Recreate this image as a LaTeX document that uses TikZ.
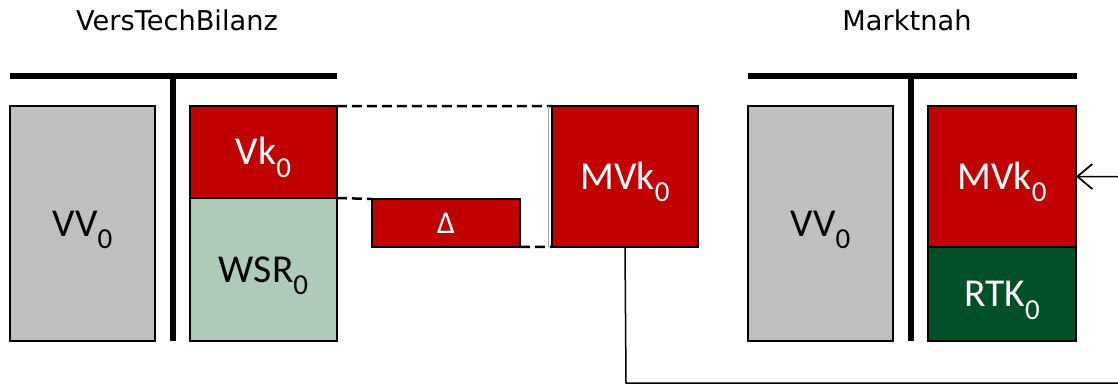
\documentclass[tikz,border=0pt]{standalone}
\usepackage{fontspec}
\setmainfont{Carlito}
\newfontfamily\titlefont{DejaVu Sans}
\usetikzlibrary{arrows.meta}
\definecolor{bred}{HTML}{C00000}
\definecolor{bgray}{HTML}{BFBFBF}
\definecolor{lgreen}{HTML}{AECBB9}
\definecolor{dgreen}{HTML}{005027}
\newcommand{\zsub}{\raisebox{-0.32em}{\fontsize{16.5}{16.5}\selectfont 0}}
\tikzset{
  box/.style={draw=black, line width=0.05cm, inner sep=0pt, outer sep=0pt,
    font=\fontsize{22.5}{22.5}\selectfont, text height=14.5pt, text depth=0pt},
  redbox/.style={box, fill=bred, text=white},
  graybox/.style={box, fill=bgray, text=black},
  bar/.style={line width=0.12cm},
  dashline/.style={line width=0.05cm, dash pattern=on 0.2cm off 0.1cm},
  title/.style={font=\titlefont\fontsize{15.5}{15.5}\selectfont, inner sep=0pt},
  conn/.style={line width=0.03cm}
}
\begin{document}
\begin{tikzpicture}[x=0.02cm,y=-0.02cm]
\useasboundingbox (0,0) rectangle (1118,385);
% titles
\node[title] (t1) at (177,20) {VersTechBilanz};
\node[title] (t2) at (907,20) {Marktnah};
% left balance
\draw[bar] (10,76) -- (337,76);
\draw[bar] (173,76) -- (173,341);
\node[graybox, minimum width=2.9cm, minimum height=4.7cm] (vvL) at (82.5,223.5) {VV\zsub};
\node[redbox, minimum width=2.94cm, minimum height=1.84cm] (vk) at (263.5,152) {Vk\zsub};
\node[box, fill=lgreen, minimum width=2.94cm, minimum height=2.86cm] (wsr) at (263.5,269.5) {WSR\zsub};
% delta and MVk
\node[redbox, minimum width=2.96cm, minimum height=0.96cm, font=\fontsize{18}{18}\selectfont, text height=11.6pt] (delta) at (446,223) {Δ};
\node[redbox, minimum width=2.92cm, minimum height=2.82cm] (mvkM) at (625,176.5) {MVk\zsub};
% dashed links
\draw[dashline] (vk.north east) -- (mvkM.north west);
\draw[dashline] (vk.south east) -- (delta.north west);
\draw[dashline] (delta.south east) -- (mvkM.south west);
\draw[black!35, line width=0.02cm] ([xshift=-0.07cm]mvkM.north west) -- ([xshift=-0.07cm]mvkM.south west);
% right balance
\draw[bar] (748,76) -- (1077,76);
\draw[bar] (911,76) -- (911,341);
\node[graybox, minimum width=2.9cm, minimum height=4.7cm] (vvR) at (820.5,223.5) {VV\zsub};
\node[redbox, minimum width=2.96cm, minimum height=2.82cm] (mvkR) at (1002,176.5) {MVk\zsub};
\node[box, fill=dgreen, text=white, minimum width=2.96cm, minimum height=1.88cm] (rtk) at (1002,294) {RTK\zsub};
% connector
\coordinate (c1) at (626,383);
\coordinate (c2) at (1135,383);
\coordinate (c3) at (1135,176.5);
\draw[conn, -{Straight Barb[length=0.3cm,width=0.5cm,line width=0.035cm]}] (mvkM.south) -- (c1) -- (c2) -- (c3) -- (mvkR.east);
\end{tikzpicture}
\end{document}
